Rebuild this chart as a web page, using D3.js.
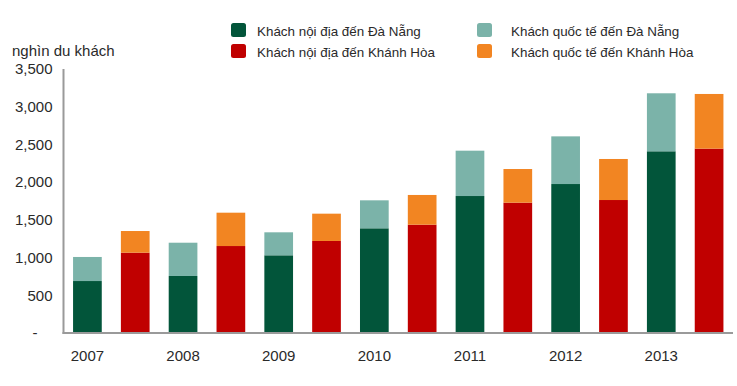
<!DOCTYPE html>
<html><head><meta charset="utf-8">
<script src="https://cdn.jsdelivr.net/npm/d3@7"></script>
<style>body{margin:0;background:#fff}svg{display:block}text{font-family:"Liberation Sans",Arial,sans-serif}</style>
</head><body><svg id="c" width="737" height="386"></svg>
<script>
const years = ["2007","2008","2009","2010","2011","2012","2013"];
const dnDomestic = [689, 756, 1030, 1388, 1816, 1975, 2409];
const dnInternational = [319, 441, 305, 371, 601, 632, 769];
const khDomestic = [1065, 1153, 1220, 1436, 1728, 1763, 2444];
const khInternational = [287, 442, 362, 394, 446, 544, 725];
const yTicks = [0, 500, 1000, 1500, 2000, 2500, 3000, 3500];
const seriesNames = ["Khách nội địa đến Đà Nẵng","Khách nội địa đến Khánh Hòa","Khách quốc tế đến Đà Nẵng","Khách quốc tế đến Khánh Hòa"];
const colors = ["#02553a","#c00000","#7bb3a9","#f28522"];

const svg = d3.select("#c");
const x0 = 63.5, x1 = 733, yBase = 333, yTop = 69;
const y = d3.scaleLinear().domain([0,3500]).range([yBase, yTop]);

const bars = [];
years.forEach((yr,i)=>{
  bars.push({key:yr+"-DN", year:yr, dom:dnDomestic[i], intl:dnInternational[i], c:[colors[0],colors[2]]});
  bars.push({key:yr+"-KH", year:yr, dom:khDomestic[i], intl:khInternational[i], c:[colors[1],colors[3]]});
});
const x = d3.scaleBand().domain(bars.map(b=>b.key)).range([x0,x1]).paddingInner(0.4).paddingOuter(0.2);

const g = svg.append("g");
bars.forEach(b=>{
  g.append("rect").attr("x",x(b.key)).attr("width",x.bandwidth())
    .attr("y",y(b.dom)).attr("height",y(0)-y(b.dom)).attr("fill",b.c[0]);
  g.append("rect").attr("x",x(b.key)).attr("width",x.bandwidth())
    .attr("y",y(b.dom+b.intl)).attr("height",y(b.dom)-y(b.dom+b.intl)).attr("fill",b.c[1]);
});

const yAxis = d3.axisLeft(y).tickValues(yTicks).tickSize(0).tickPadding(11)
  .tickFormat(d=> d===0 ? "-" : d3.format(",")(d));
const ya = svg.append("g").attr("transform",`translate(${x0},0)`).call(yAxis);
ya.select(".domain").remove();
ya.selectAll("text").attr("font-size",15).attr("fill","#2a2a2a")
  .attr("font-family","Liberation Sans, Arial, sans-serif");
ya.selectAll(".tick").filter(d=>d===0).select("text").attr("dx",-15);
svg.append("line").attr("x1",x0).attr("x2",x0).attr("y1",y(3500)).attr("y2",yBase+1)
  .attr("stroke","#9a9a9a").attr("stroke-width",2);
svg.append("line").attr("x1",x0-1).attr("x2",x1).attr("y1",yBase).attr("y2",yBase)
  .attr("stroke","#9a9a9a").attr("stroke-width",2);

years.forEach(yr=>{
  svg.append("text").attr("x",x(yr+"-DN")+x.bandwidth()/2).attr("y",361)
    .attr("text-anchor","middle").attr("font-size",15).attr("fill","#2a2a2a").text(yr);
});

svg.append("text").attr("x",12).attr("y",56).attr("font-size",15).attr("fill","#2a2a2a").text("nghìn du khách");

const legPos = [[231,30,257],[231,51,257],[477,30,511],[477,51,511]];
seriesNames.forEach((n,i)=>{
  const [lx,ly,tx] = legPos[i];
  svg.append("rect").attr("x",lx).attr("y",ly-7).attr("width",15).attr("height",14).attr("rx",2.5)
    .attr("fill",colors[i]);
  svg.append("text").attr("x",tx).attr("y",ly+6).attr("font-size",13.4).attr("fill","#2a2a2a").text(n);
});
</script></body></html>
